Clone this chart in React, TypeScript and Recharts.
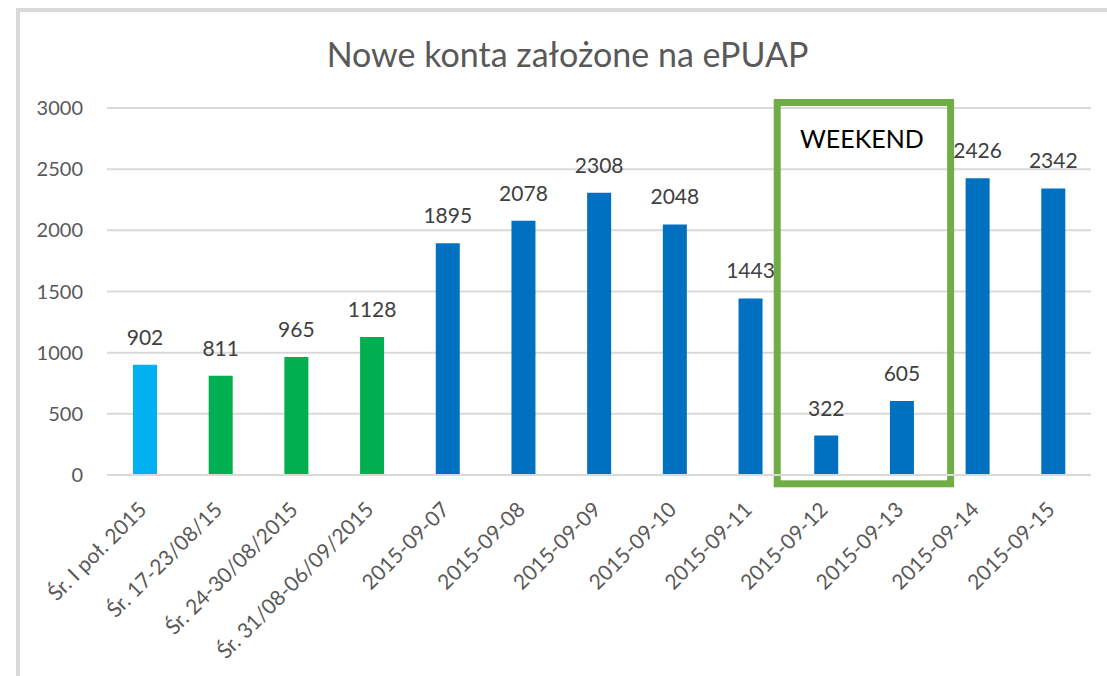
import { Bar, BarChart, CartesianGrid, Cell, LabelList, ReferenceArea, XAxis, YAxis } from "recharts";

const categories = [
  "Śr. I poł. 2015",
  "Śr. 17-23/08/15",
  "Śr. 24-30/08/2015",
  "Śr. 31/08-06/09/2015",
  "2015-09-07",
  "2015-09-08",
  "2015-09-09",
  "2015-09-10",
  "2015-09-11",
  "2015-09-12",
  "2015-09-13",
  "2015-09-14",
  "2015-09-15",
];

const values = [902, 811, 965, 1128, 1895, 2078, 2308, 2048, 1443, 322, 605, 2426, 2342];

const yTicks = [0, 500, 1000, 1500, 2000, 2500, 3000];

const weekendStart = "2015-09-12";
const weekendEnd = "2015-09-13";

const barColors = [
  "#00B0F0",
  "#00B050",
  "#00B050",
  "#00B050",
  "#0070C0",
  "#0070C0",
  "#0070C0",
  "#0070C0",
  "#0070C0",
  "#0070C0",
  "#0070C0",
  "#0070C0",
  "#0070C0",
];

const data = categories.map((name, i) => ({ name, value: values[i] }));

const FONT = "Lato, 'Open Sans', sans-serif";

const XTick = ({ x, y, payload }: { x: number; y: number; payload: { value: string } }) => {
  const tx = x + 3;
  const ty = y + 28;
  return (
    <text
      x={tx}
      y={ty}
      transform={`rotate(-45, ${tx}, ${ty})`}
      textAnchor="end"
      fill="#595959"
      fontSize={21}
      fontFamily={FONT}
    >
      {payload.value}
    </text>
  );
};

const WeekendBox = (props: { x: number; y: number; width: number; height: number }) => {
  const pad = 11;
  const { x, y, width, height } = props;
  return (
    <g>
      <rect
        x={x - pad}
        y={y}
        width={width + pad * 2}
        height={height}
        fill="none"
        stroke="#70AD47"
        strokeWidth={7}
      />
      <text
        x={x + width / 2 - 2}
        y={y + 46}
        textAnchor="middle"
        fill="#000000"
        fontSize={25}
        fontFamily={FONT}
      >
        WEEKEND
      </text>
    </g>
  );
};

const App = () => {
  return (
    <div
      style={{
        position: "absolute",
        left: 0,
        top: 0,
        width: 1107,
        height: 676,
        overflow: "hidden",
        background: "#fff",
        fontFamily: FONT,
      }}
    >
      <div
        style={{
          position: "absolute",
          left: 16,
          top: 8,
          width: 1200,
          height: 800,
          border: "4px solid #D9D9D9",
        }}
      />
      <div
        style={{
          position: "absolute",
          left: 0,
          top: 33,
          width: 1135,
          textAlign: "center",
          fontSize: 34,
          color: "#595959",
        }}
      >
        Nowe konta założone na ePUAP
      </div>
      <div style={{ position: "absolute", left: 0, top: 0 }}>
        <BarChart
          width={1107}
          height={676}
          data={data}
          margin={{ top: 108, right: 16, bottom: 0, left: 0 }}
        >
          <CartesianGrid vertical={false} stroke="#D9D9D9" strokeWidth={2} />
          <XAxis
            dataKey="name"
            interval={0}
            tickLine={false}
            axisLine={{ stroke: "#D9D9D9", strokeWidth: 2 }}
            height={201}
            tick={XTick}
          />
          <YAxis
            width={107}
            domain={[0, 3000]}
            ticks={yTicks}
            axisLine={false}
            tickLine={false}
            tickSize={0}
            tickMargin={24}
            tick={{ fill: "#595959", fontSize: 20, fontFamily: FONT }}
          />
          <Bar dataKey="value" barSize={24} isAnimationActive={false}>
            {data.map((d, i) => (
              <Cell key={d.name} fill={barColors[i]} />
            ))}
            <LabelList
              dataKey="value"
              position="top"
              offset={20}
              fill="#404040"
              fontSize={21}
              fontFamily={FONT}
            />
          </Bar>
          <ReferenceArea
            x1={weekendStart}
            x2={weekendEnd}
            y1={-72}
            y2={3045}
            ifOverflow="visible"
            shape={WeekendBox}
          />
        </BarChart>
      </div>
    </div>
  );
};

export default App;
